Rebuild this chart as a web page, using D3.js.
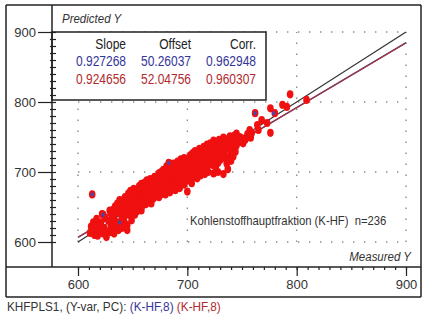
<!DOCTYPE html>
<html>
<head>
<meta charset="utf-8">
<script src="https://cdn.jsdelivr.net/npm/d3@7"></script>
<style>
  html, body { margin: 0; padding: 0; background: #fff; }
  svg text { font-family: "Liberation Sans", Arial, sans-serif; }
</style>
</head>
<body>
<div id="chart"></div>
<script>
// axis ticks
const MAJOR_TICKS = [600, 700, 800, 900]

// regression summary (legend table)
const LEGEND_HEADERS = ["Slope", "Offset", "Corr."]
const BLUE_STATS = ["0.927268", "50.26037", "0.962948"]
const RED_STATS = ["0.924656", "52.04756", "0.960307"]
const BLUE_SLOPE = 0.927268
const BLUE_OFFSET = 50.26037
const RED_SLOPE = 0.924656
const RED_OFFSET = 52.04756

// samples (measured / predicted)
const measuredY = [
  611, 612, 613, 614, 615, 616, 617, 618, 619, 620, 621, 622, 623, 623, 624, 625, 626, 627, 628, 629, 629, 630, 630,
  631, 631, 632, 632, 633, 633, 634, 634, 635, 635, 636, 636, 637, 637, 638, 638, 639, 639, 640, 640, 640,
  641, 641, 642, 642, 643, 643, 644, 644, 645, 645, 645, 646, 646, 647, 647, 648, 648, 649, 649, 650, 650, 650,
  651, 651, 652, 652, 653, 653, 654, 654, 655, 655, 656, 656, 657, 657, 658, 658, 659, 659, 660, 660,
  661, 661, 662, 662, 663, 663, 663, 664, 664, 665, 665, 666, 666, 667, 667, 668, 668, 669, 669, 670, 670,
  671, 671, 672, 672, 673, 673, 674, 674, 674, 675, 675, 676, 676, 676, 677, 677, 678, 678, 678, 679, 679, 680, 680, 680,
  681, 681, 682, 682, 683, 683, 683, 684, 684, 685, 685, 685, 686, 686, 687, 687, 687, 688, 688, 689, 689, 689, 690, 690,
  691, 691, 691, 692, 692, 693, 693, 693, 694, 694, 695, 695, 696, 696, 697, 697, 697, 698, 698, 699, 699, 700, 700, 700,
  701, 701, 702, 702, 703, 703, 704, 704, 705, 705, 706, 706, 707, 707, 707, 708, 708, 709, 709, 710, 710,
  711, 711, 712, 712, 713, 713, 714, 714, 715, 715, 716, 716, 717, 717, 718, 718, 719, 719, 720, 720,
  721, 721, 722, 722, 723, 723, 724, 724, 725, 725, 726, 726, 727, 727, 728, 728, 729, 729, 730, 730,
  731, 731, 732, 732, 733, 733, 734, 734, 735, 735, 736, 736, 737, 737, 738, 738, 739, 739, 740, 740,
  741, 742, 742, 743, 743, 744, 744, 745, 745,
  748, 748, 750, 751, 753, 755, 756, 757, 758, 759, 762, 764, 765, 768, 773, 776, 776, 780, 787, 791, 794, 809,
]
const predictedY = [
  613, 622, 668, 628, 610, 618, 633, 609, 624, 615, 628, 640, 612, 639, 620, 635, 607, 614, 630, 614, 645, 622, 641,
  633, 617, 646, 625, 612, 638, 629, 651, 620, 642, 655, 628, 617, 646, 627, 660, 649, 621, 636, 620, 655,
  660, 644, 631, 652, 626, 664, 639, 657, 624, 617, 650, 669, 641, 650, 660, 638, 673, 655, 631, 660, 644, 668,
  652, 676, 639, 663, 648, 670, 674, 644, 661, 650, 680, 667, 656, 672, 645, 683, 668, 652, 676, 659,
  685, 665, 670, 654, 664, 679, 688, 658, 673, 681, 668, 690, 661, 675, 655, 684, 669, 662, 678, 693, 673,
  666, 684, 693, 677, 687, 670, 681, 698, 664, 675, 690, 668, 700, 684, 679, 692, 670, 687, 703, 694, 676, 683, 698, 668,
  689, 708, 680, 695, 713, 687, 702, 671, 693, 699, 682, 707, 688, 676, 703, 694, 712, 681, 697, 709, 690, 674, 700, 686,
  715, 694, 680, 705, 689, 698, 711, 677, 692, 718, 704, 684, 713, 690, 700, 720, 682, 707, 693, 716, 687, 710, 695, 672,
  720, 704, 690, 712, 698, 724, 716, 684, 709, 727, 693, 719, 712, 699, 730, 704, 723, 691, 715, 726, 700,
  718, 733, 695, 721, 729, 707, 702, 724, 736, 718, 697, 727, 713, 731, 706, 739, 724, 700, 734, 712,
  741, 722, 717, 729, 710, 737, 745, 698, 731, 714, 725, 707, 742, 719, 713, 700, 738, 746, 717, 733,
  727, 743, 735, 720, 749, 697, 740, 725, 721, 744, 733, 712, 747, 704, 719, 739, 735, 751, 726, 716,
  744, 741, 722, 736, 752, 746, 729, 738, 755,
  743, 750, 748, 741, 746, 754, 750, 760, 749, 756, 784, 767, 760, 774, 770, 756, 791, 784, 796, 793, 811, 803,
]

// samples where the blue series shows through
const blueMeasured = [613, 623, 638, 683, 762, 779]
const bluePredicted = [668, 639, 628, 713, 784, 784]

const width = 428
const height = 315
const frame = { left: 6, top: 5, right: 421, bottom: 297 }
const axisX = 52
const axisY = 267

const svg = d3
  .select("#chart")
  .append("svg")
  .attr("width", width)
  .attr("height", height)
  .attr("viewBox", `0 0 ${width} ${height}`)

svg.append("rect").attr("width", width).attr("height", height).attr("fill", "#fff")

/*
 * ------------------------------------------------
 * Scales
 * ------------------------------------------------
 */
const x = d3.scaleLinear().domain([600, 900]).range([78, 406])
const y = d3.scaleLinear().domain([600, 900]).range([242, 32])

/*
 * ------------------------------------------------
 * Dotted grid
 * ------------------------------------------------
 */
const grid = svg
  .append("g")
  .attr("stroke", "#8c8c8c")
  .attr("stroke-width", 1.4)
  .attr("stroke-dasharray", "1.4,9.6")

grid
  .selectAll("line.v")
  .data(MAJOR_TICKS)
  .join("line")
  .attr("class", "v")
  .attr("x1", (d) => x(d))
  .attr("x2", (d) => x(d))
  .attr("y1", y(600))
  .attr("y2", y(900))

grid
  .selectAll("line.h")
  .data(MAJOR_TICKS)
  .join("line")
  .attr("class", "h")
  .attr("x1", x(600))
  .attr("x2", x(900))
  .attr("y1", (d) => y(d))
  .attr("y2", (d) => y(d))

/*
 * ------------------------------------------------
 * Target line and regression lines
 * ------------------------------------------------
 */
const line = d3
  .line()
  .x((d) => x(d[0]))
  .y((d) => y(d[1]))

svg
  .append("path")
  .datum([600, 900].map((v) => [v, v]))
  .attr("d", line)
  .attr("fill", "none")
  .attr("stroke", "#333")
  .attr("stroke-width", 1.2)

svg
  .append("path")
  .datum([600, 900].map((v) => [v, BLUE_SLOPE * v + BLUE_OFFSET]))
  .attr("d", line)
  .attr("fill", "none")
  .attr("stroke", "#3a3a90")
  .attr("stroke-width", 1.2)

svg
  .append("path")
  .datum([600, 900].map((v) => [v, RED_SLOPE * v + RED_OFFSET]))
  .attr("d", line)
  .attr("fill", "none")
  .attr("stroke", "#a83838")
  .attr("stroke-width", 1.2)

/*
 * ------------------------------------------------
 * Points
 * ------------------------------------------------
 */
const points = d3.zip(measuredY, predictedY)

svg
  .append("g")
  .selectAll("ellipse")
  .data(points)
  .join("ellipse")
  .attr("cx", (d) => x(d[0]))
  .attr("cy", (d) => y(d[1]))
  .attr("rx", 3.3)
  .attr("ry", 4.1)
  .attr("fill", "#f01010")

svg
  .append("g")
  .selectAll("ellipse")
  .data(d3.zip(blueMeasured, bluePredicted))
  .join("ellipse")
  .attr("cx", (d) => x(d[0]))
  .attr("cy", (d) => y(d[1]))
  .attr("rx", 1.6)
  .attr("ry", 2.2)
  .attr("fill", "#4848a8")

/*
 * ------------------------------------------------
 * Legend table
 * ------------------------------------------------
 */
svg
  .append("rect")
  .attr("x", axisX)
  .attr("y", y(900))
  .attr("width", 214)
  .attr("height", y(800) - y(900) - 2)
  .attr("fill", "#fff")
  .attr("stroke", "#222")
  .attr("stroke-width", 1.5)

const colRight = [126, 191, 256]
const rows = [
  { values: LEGEND_HEADERS, color: "#222", y: 49 },
  { values: BLUE_STATS, color: "#34349a", y: 66 },
  { values: RED_STATS, color: "#b02a2e", y: 84 },
]

rows.forEach((row) => {
  svg
    .append("g")
    .selectAll("text")
    .data(row.values)
    .join("text")
    .attr("transform", (d, i) => `translate(${colRight[i]},${row.y}) scale(1,1.15)`)
    .attr("text-anchor", "end")
    .attr("font-size", 12)
    .attr("fill", row.color)
    .text((d) => d)
})

/*
 * ------------------------------------------------
 * Frame and axes
 * ------------------------------------------------
 */
const frameLines = [
  [frame.left, frame.top, frame.right, frame.top],
  [frame.left, frame.top, frame.left, frame.bottom],
  [frame.right, frame.top, frame.right, frame.bottom],
  [frame.left, frame.bottom, frame.right, frame.bottom],
  [axisX, frame.top, axisX, axisY],
  [frame.left, axisY, frame.right, axisY],
]

svg
  .append("g")
  .selectAll("line")
  .data(frameLines)
  .join("line")
  .attr("x1", (d) => d[0])
  .attr("y1", (d) => d[1])
  .attr("x2", (d) => d[2])
  .attr("y2", (d) => d[3])
  .attr("stroke", "#222")
  .attr("stroke-width", 1.5)

const minorTicks = d3.range(600, 901, 10)

// y axis: major ticks outside, minor ticks inside
const yAxis = svg
  .append("g")
  .attr("transform", `translate(${axisX},0)`)
  .call(d3.axisLeft(y).tickValues(MAJOR_TICKS).tickSize(14).tickSizeOuter(0).tickPadding(2))

svg
  .append("g")
  .attr("transform", `translate(${axisX - 2},0)`)
  .call(d3.axisRight(y).tickValues(minorTicks).tickSize(6).tickFormat(""))
  .call((g) => g.select(".domain").remove())

// x axis
const xAxis = svg
  .append("g")
  .attr("transform", `translate(0,${axisY})`)
  .call(d3.axisBottom(x).tickValues(MAJOR_TICKS).tickSize(9).tickSizeOuter(0).tickPadding(4))

svg
  .append("g")
  .attr("transform", `translate(0,${axisY})`)
  .call(d3.axisBottom(x).tickValues(minorTicks).tickSize(3).tickFormat(""))
  .call((g) => g.select(".domain").remove())

svg.selectAll(".domain").remove()
svg.selectAll(".tick line").attr("stroke", "#222").attr("stroke-width", 1.2)

for (const axis of [yAxis, xAxis]) {
  axis
    .selectAll("text")
    .attr("font-size", 13)
    .attr("font-family", '"Liberation Sans", Arial, sans-serif')
    .attr("fill", "#333")
}

/*
 * ------------------------------------------------
 * Labels
 * ------------------------------------------------
 */
svg
  .append("text")
  .attr("transform", "translate(62,23) scale(1,1.15)")
  .attr("font-size", 11.5)
  .attr("font-style", "italic")
  .attr("fill", "#333")
  .text("Predicted Y")

svg
  .append("text")
  .attr("transform", "translate(411,261) scale(1,1.15)")
  .attr("text-anchor", "end")
  .attr("font-size", 11.5)
  .attr("font-style", "italic")
  .attr("fill", "#333")
  .text("Measured Y")

svg
  .append("text")
  .attr("transform", "translate(190,225) scale(1,1.1)")
  .attr("font-size", 11.3)
  .attr("fill", "#333")
  .attr("xml:space", "preserve")
  .text("Kohlenstoffhauptfraktion (K-HF)  n=236")

const footer = svg
  .append("text")
  .attr("transform", "translate(7,311) scale(1,1.1)")
  .attr("font-size", 11.8)
  .attr("fill", "#333")

footer.append("tspan").text("KHFPLS1, (Y-var, PC): ")
footer.append("tspan").attr("fill", "#34349a").text("(K-HF,8) ")
footer.append("tspan").attr("fill", "#b02a2e").text("(K-HF,8)")
</script>
</body>
</html>
